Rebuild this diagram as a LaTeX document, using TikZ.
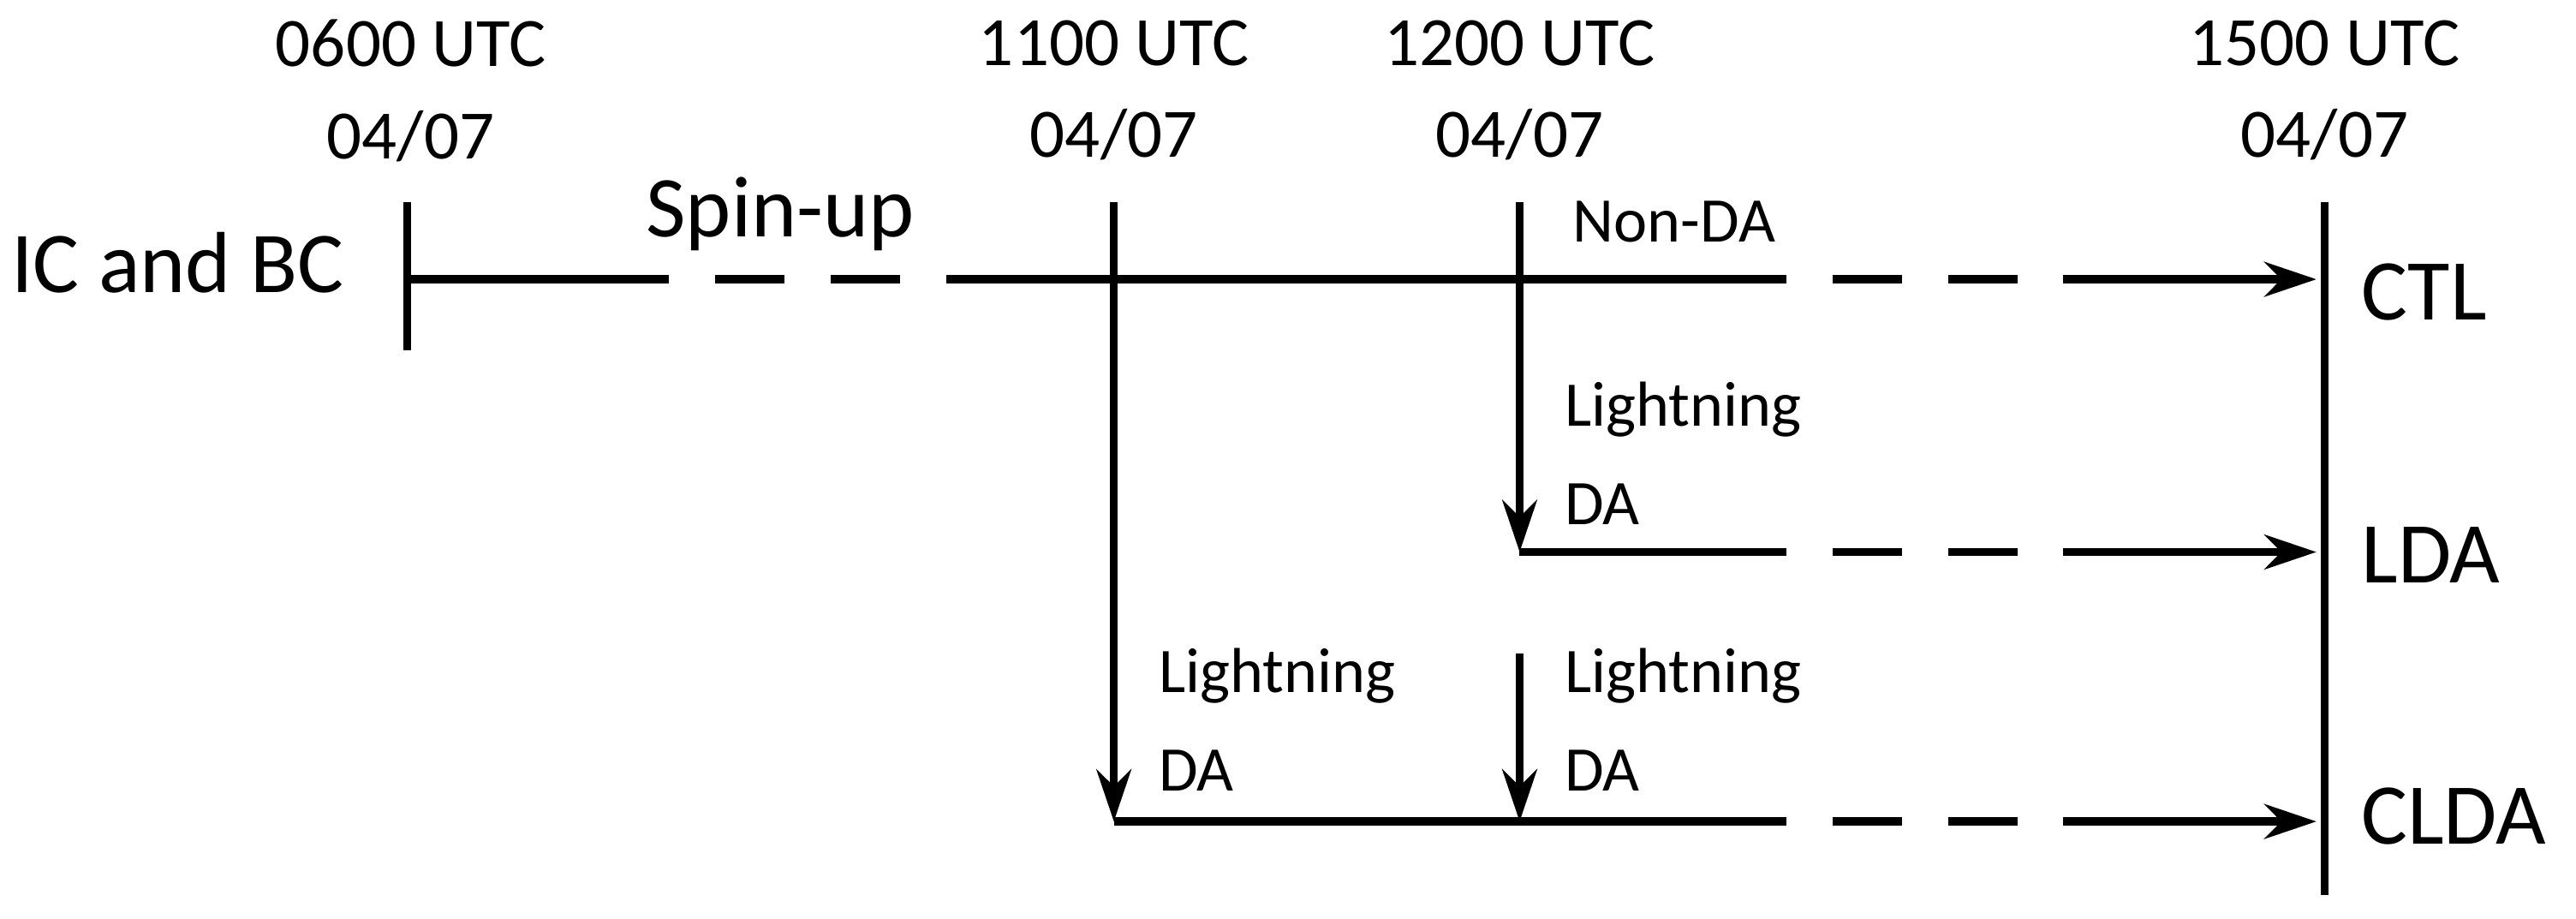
\documentclass[tikz,border=0pt]{standalone}
\usepackage{fontspec}
\setmainfont{Carlito}
\usetikzlibrary{arrows.meta}
\begin{document}
\begin{tikzpicture}[x=0.01cm,y=-0.01cm,
  ln/.style={line width=1.4pt},
  dl/.style={line width=1.4pt,dash pattern=on 12pt off 8pt},
  ar/.style={line width=1.4pt,-{Stealth[length=9pt,width=6pt]}},
  hd/.style={font=\fontsize{12}{14}\selectfont,align=center},
  sm/.style={font=\fontsize{11}{13}\selectfont,align=left,anchor=west},
  bg/.style={font=\fontsize{15}{18}\selectfont}]
\useasboundingbox (0,0) rectangle (1568,559);
\node[hd] (h1) at (250,55) {0600 UTC\\[2pt]04/07};
\node[hd] (h2) at (678,55) {1100 UTC\\[2pt]04/07};
\node[hd] (h3) at (925,55) {1200 UTC\\[2pt]04/07};
\node[hd] (h4) at (1415,55) {1500 UTC\\[2pt]04/07};
\node[bg,anchor=east] (icbc) at (222,160) {IC and BC};
\node[bg] (spin) at (475,130) {Spin-up};
\node[sm] (nonda) at (945,135) {Non-DA};
\node[sm] (ld1) at (940,276) {Lightning\\[4pt]DA};
\node[sm] (ld2) at (693,438) {Lightning\\[4pt]DA};
\node[sm] (ld3) at (940,438) {Lightning\\[4pt]DA};
\node[bg,anchor=west] (ctl) at (1425,178) {CTL};
\node[bg,anchor=west] (lda) at (1425,338) {LDA};
\node[bg,anchor=west] (clda) at (1425,497) {CLDA};
% coordinates
\coordinate (t0a) at (248,123); \coordinate (t0b) at (248,213);
\coordinate (m0) at (248,170); \coordinate (m1) at (365,170);
\coordinate (m2) at (580,170); \coordinate (m3) at (1045,170);
\coordinate (m4) at (1270,170); \coordinate (m5) at (1410,170);
\coordinate (ea) at (1415,123); \coordinate (eb) at (1415,545);
\coordinate (v1a) at (678,123); \coordinate (v1b) at (678,500);
\coordinate (v2a) at (925,123); \coordinate (v2b) at (925,336);
\coordinate (v3a) at (925,398); \coordinate (v3b) at (925,500);
\coordinate (l1) at (1045,336); \coordinate (l2) at (1270,336); \coordinate (l3) at (1410,336);
\coordinate (c1) at (1045,500); \coordinate (c2) at (1270,500); \coordinate (c3) at (1410,500);
\draw[ln] (t0a) -- (t0b);
\draw[ln] (ea) -- (eb);
\draw[ln] (m0) -- (m1); \draw[dl] (m1) -- (m2); \draw[ln] (m2) -- (m3);
\draw[dl] (m3) -- (m4); \draw[ar] (m4) -- (m5);
\draw[ar] (v1a) -- (v1b);
\draw[ar] (v2a) -- (v2b);
\draw[ar] (v3a) -- (v3b);
\draw[ln] (v2b) -- (l1); \draw[dl] (l1) -- (l2); \draw[ar] (l2) -- (l3);
\draw[ln] (v1b) -- (c1); \draw[dl] (c1) -- (c2); \draw[ar] (c2) -- (c3);
\end{tikzpicture}
\end{document}
